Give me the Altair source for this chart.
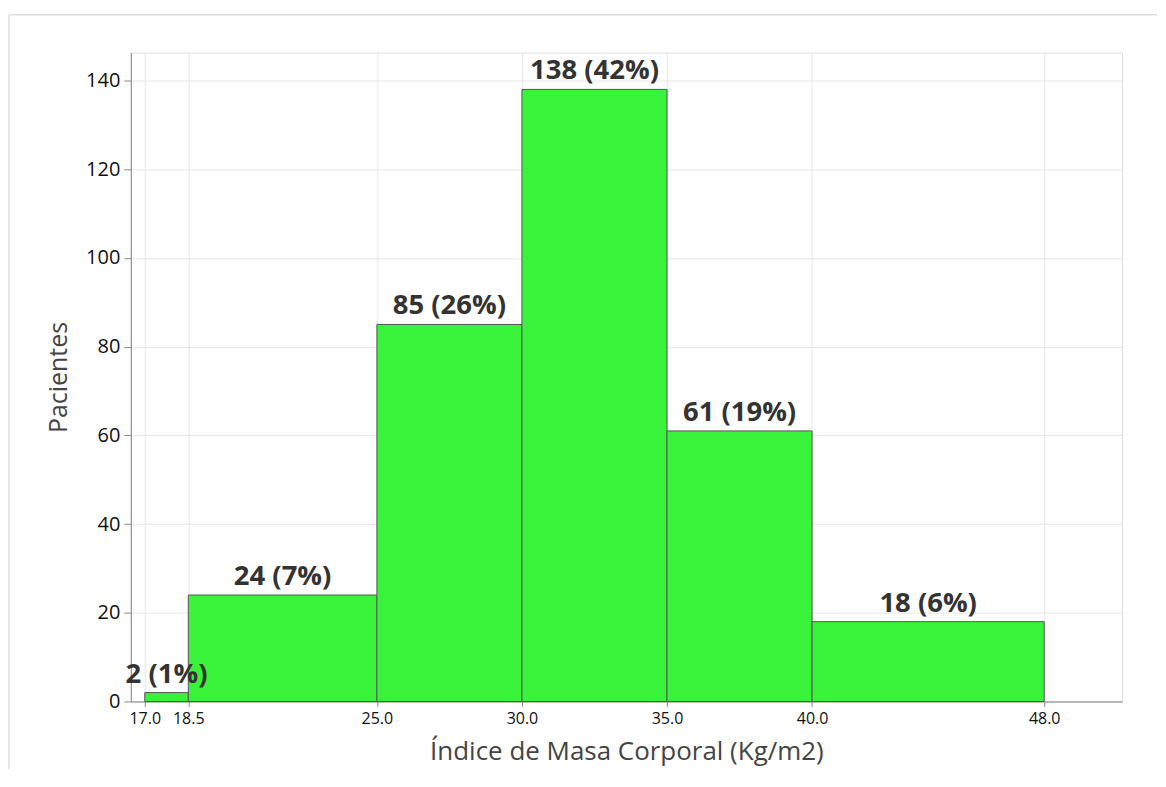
import altair as alt
import pandas as pd

bin_start = [17.0, 18.5, 25.0, 30.0, 35.0, 40.0]
bin_end = [18.5, 25.0, 30.0, 35.0, 40.0, 48.0]
counts = [2, 24, 85, 138, 61, 18]
percents = [1, 7, 26, 42, 19, 6]
x_ticks = [17.0, 18.5, 25.0, 30.0, 35.0, 40.0, 48.0]
y_ticks = [0, 20, 40, 60, 80, 100, 120, 140]

df = pd.DataFrame({"start": bin_start, "end": bin_end, "count": counts, "pct": percents})

FONT = "Open Sans"
xscale = alt.Scale(domain=[16.518, 50.684], nice=False, zero=False)
yscale = alt.Scale(domain=[0, 146.3], nice=False)

base = alt.Chart(df)

bars = base.mark_rect(color="#39F33A", stroke="#555555", strokeWidth=1).encode(
    x=alt.X("start:Q", scale=xscale,
            axis=alt.Axis(values=x_ticks, format=".1f", title="Índice de Masa Corporal (Kg/m2)",
                          grid=True, gridColor="#e6e6e6", labelFontSize=16, labelColor="#111111",
                          labelFont=FONT, titleFont=FONT, titleFontSize=26, titleFontWeight="normal",
                          titleColor="#444444", titlePadding=12, tickSize=5, tickColor="#888888",
                          domainColor="#888888", labelPadding=4, labelFlush=False)),
    x2="end:Q",
    y=alt.Y("count:Q", scale=yscale,
            axis=alt.Axis(values=y_ticks, title="Pacientes", grid=True, gridColor="#e6e6e6",
                          labelFontSize=20, labelColor="#111111", labelFont=FONT, titleFont=FONT,
                          titleFontSize=25, titleFontWeight="normal", titleColor="#444444",
                          titlePadding=14, tickSize=7, tickColor="#888888", domainColor="#888888",
                          labelPadding=4)),
    y2=alt.datum(0),
)

labels = base.transform_calculate(
    mid="(datum.start + datum.end) / 2",
    label="datum.count + ' (' + datum.pct + '%)'",
).mark_text(font=FONT, fontSize=27.5, fontWeight="bold", color="#333333", baseline="alphabetic",
            dy=-10).encode(
    x=alt.X("mid:Q", scale=xscale),
    y=alt.Y("count:Q", scale=yscale),
    text="label:N",
)

one = alt.Chart(pd.DataFrame({"a": [0]}))
frame_top = one.mark_rule(color="#dddddd", strokeWidth=1.5).encode(
    x=alt.value(-122), x2=alt.value(1028), y=alt.value(-38))
frame_left = one.mark_rule(color="#dddddd", strokeWidth=1.5).encode(
    x=alt.value(-122), y=alt.value(-38), y2=alt.value(718))

chart = alt.layer(frame_top, frame_left, bars, labels).properties(
    width=993, height=650,
    padding={"left": 0, "top": 5, "right": 0, "bottom": 4},
).configure_view(stroke="#999999", strokeWidth=1).configure(background="white")

chart.save("out.html", embed_options={"renderer": "svg", "actions": False})
